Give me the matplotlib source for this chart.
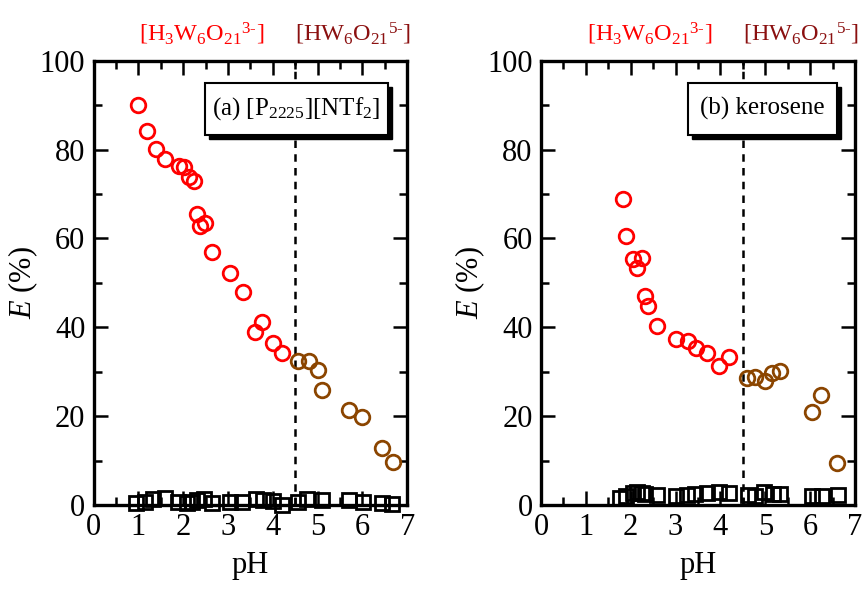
import numpy as np
import matplotlib
matplotlib.use('Agg')
import matplotlib.pyplot as plt
from matplotlib.patches import Rectangle

plt.rcParams['font.family'] = ['Liberation Serif', 'DejaVu Serif']
plt.rcParams['mathtext.fontset'] = 'custom'
plt.rcParams['mathtext.rm'] = 'Liberation Serif'
plt.rcParams['mathtext.it'] = 'Liberation Serif:italic'

# (a) [P2225][NTf2]
ph_a_red = [0.98, 1.19, 1.39, 1.59, 1.90, 2.02, 2.12, 2.23, 2.31, 2.38, 2.49, 2.64,
            3.05, 3.33, 3.60, 3.76, 4.00, 4.21]
e_a_red = [90.0, 84.2, 80.1, 77.9, 76.3, 76.1, 73.9, 73.0, 65.6, 62.8, 63.5, 56.9,
           52.3, 48.0, 39.0, 41.1, 36.4, 34.1]
ph_a_brown = [4.57, 4.81, 5.00, 5.10, 5.69, 6.00, 6.44, 6.67]
e_a_brown = [32.4, 32.3, 30.3, 25.9, 21.4, 19.9, 12.8, 9.7]
ph_a_sq = [0.95, 1.15, 1.33, 1.59, 1.89, 2.08, 2.19, 2.30, 2.47, 2.64, 3.04, 3.31,
           3.62, 3.77, 4.00, 4.21, 4.57, 4.77, 5.10, 5.69, 6.01, 6.44, 6.65]
e_a_sq = [0.4, 0.7, 1.3, 1.6, 0.6, 0.4, 0.7, 1.1, 1.3, 0.4, 0.7, 0.7,
          1.3, 1.1, 0.9, 0.0, 0.7, 1.3, 1.1, 1.1, 0.7, 0.4, 0.2]

# (b) kerosene
ph_b_red = [1.82, 1.90, 2.04, 2.15, 2.25, 2.32, 2.39, 2.58, 3.02, 3.28, 3.46, 3.70,
            3.97, 4.18]
e_b_red = [68.9, 60.5, 55.4, 53.3, 55.7, 47.0, 44.8, 40.4, 37.4, 36.8, 35.3, 34.3,
           31.3, 33.2]
ph_b_brown = [4.59, 4.77, 4.99, 5.16, 5.33, 6.05, 6.25, 6.59]
e_b_brown = [28.5, 28.7, 28.0, 29.6, 30.2, 20.9, 24.7, 9.4]
ph_b_sq = [1.76, 1.90, 2.06, 2.15, 2.25, 2.32, 2.58, 3.02, 3.25, 3.43, 3.69, 3.97,
           4.18, 4.62, 4.77, 4.97, 5.18, 5.33, 6.05, 6.26, 6.61]
e_b_sq = [1.5, 2.0, 2.8, 3.0, 2.8, 2.4, 2.2, 2.0, 2.2, 2.4, 2.6, 3.0,
          2.8, 2.2, 2.0, 3.0, 2.4, 2.4, 2.0, 2.0, 2.2]

boundary_ph = 4.5
species = [r'[H$_3$W$_6$O$_{21}$$^{3\text{-}}$]', r'[HW$_6$O$_{21}$$^{5\text{-}}$]']
species_x = [2.42, 5.80]
panel_titles = [r'(a) [P$_{2225}$][NTf$_2$]', '(b) kerosene']

RED = '#ff0000'
BROWN = '#8b4500'
DARKRED = '#8b1010'

fig = plt.figure(figsize=(8.65, 5.89), dpi=100)
ax_a = fig.add_axes([93.6/865, 84/589, 313.7/865, 444.3/589])
ax_b = fig.add_axes([541/865, 84/589, 314/865, 444.3/589])

panels = [
    (ax_a, ph_a_red, e_a_red, ph_a_brown, e_a_brown, ph_a_sq, e_a_sq, (0.355, 0.938)),
    (ax_b, ph_b_red, e_b_red, ph_b_brown, e_b_brown, ph_b_sq, e_b_sq, (0.468, 0.943)),
]

for i, (ax, xr, yr, xb, yb, xs, ys, (bx0, bx1)) in enumerate(panels):
    ax.axvline(boundary_ph, color='k', ls=(0, (3, 2.5)), lw=1.8, zorder=1)
    ax.plot(xs, ys, 's', ms=10.5, mfc='none', mec='k', mew=2, clip_on=False, zorder=3)
    ax.plot(xr, yr, 'o', ms=10.5, mfc='none', mec=RED, mew=2, clip_on=False, zorder=3)
    ax.plot(xb, yb, 'o', ms=10.5, mfc='none', mec=BROWN, mew=2, clip_on=False, zorder=3)

    ax.set_xlim(0, 7)
    ax.set_ylim(0, 100)
    ax.set_xticks(np.arange(0, 8, 1))
    ax.set_xticks(np.arange(0, 7.5, 0.5), minor=True)
    ax.set_yticks(np.arange(0, 101, 20))
    ax.set_yticks(np.arange(0, 101, 10), minor=True)
    ax.tick_params(which='both', direction='in', top=True, right=True,
                   labelsize=22, width=1.8, pad=6)
    ax.tick_params(which='major', length=10)
    ax.tick_params(which='minor', length=6)
    for sp in ax.spines.values():
        sp.set_linewidth(2.4)

    ax.set_xlabel('pH', fontsize=22, labelpad=6)
    ax.set_ylabel(r'$E$ (%)', fontsize=22, labelpad=0)

    # label box with drop shadow
    by0, by1 = 0.833, 0.950
    ax.add_patch(Rectangle((bx0 + 0.013, by0 - 0.010), bx1 - bx0, by1 - by0,
                           transform=ax.transAxes, fc='k', ec='k', zorder=4))
    ax.add_patch(Rectangle((bx0, by0), bx1 - bx0, by1 - by0,
                           transform=ax.transAxes, fc='white', ec='k', lw=1.5, zorder=5))
    ax.text((bx0 + bx1) / 2, (by0 + by1) / 2, panel_titles[i], transform=ax.transAxes,
            ha='center', va='center', fontsize=18, zorder=6)

    # species above the plot
    trans = ax.get_xaxis_transform()
    ax.text(species_x[0], 1.06, species[0], transform=trans, ha='center', va='center',
            color=RED, fontsize=17.5)
    ax.text(species_x[1], 1.06, species[1], transform=trans, ha='center', va='center',
            color=DARKRED, fontsize=17.5)

fig.savefig('out.png', dpi=100)
